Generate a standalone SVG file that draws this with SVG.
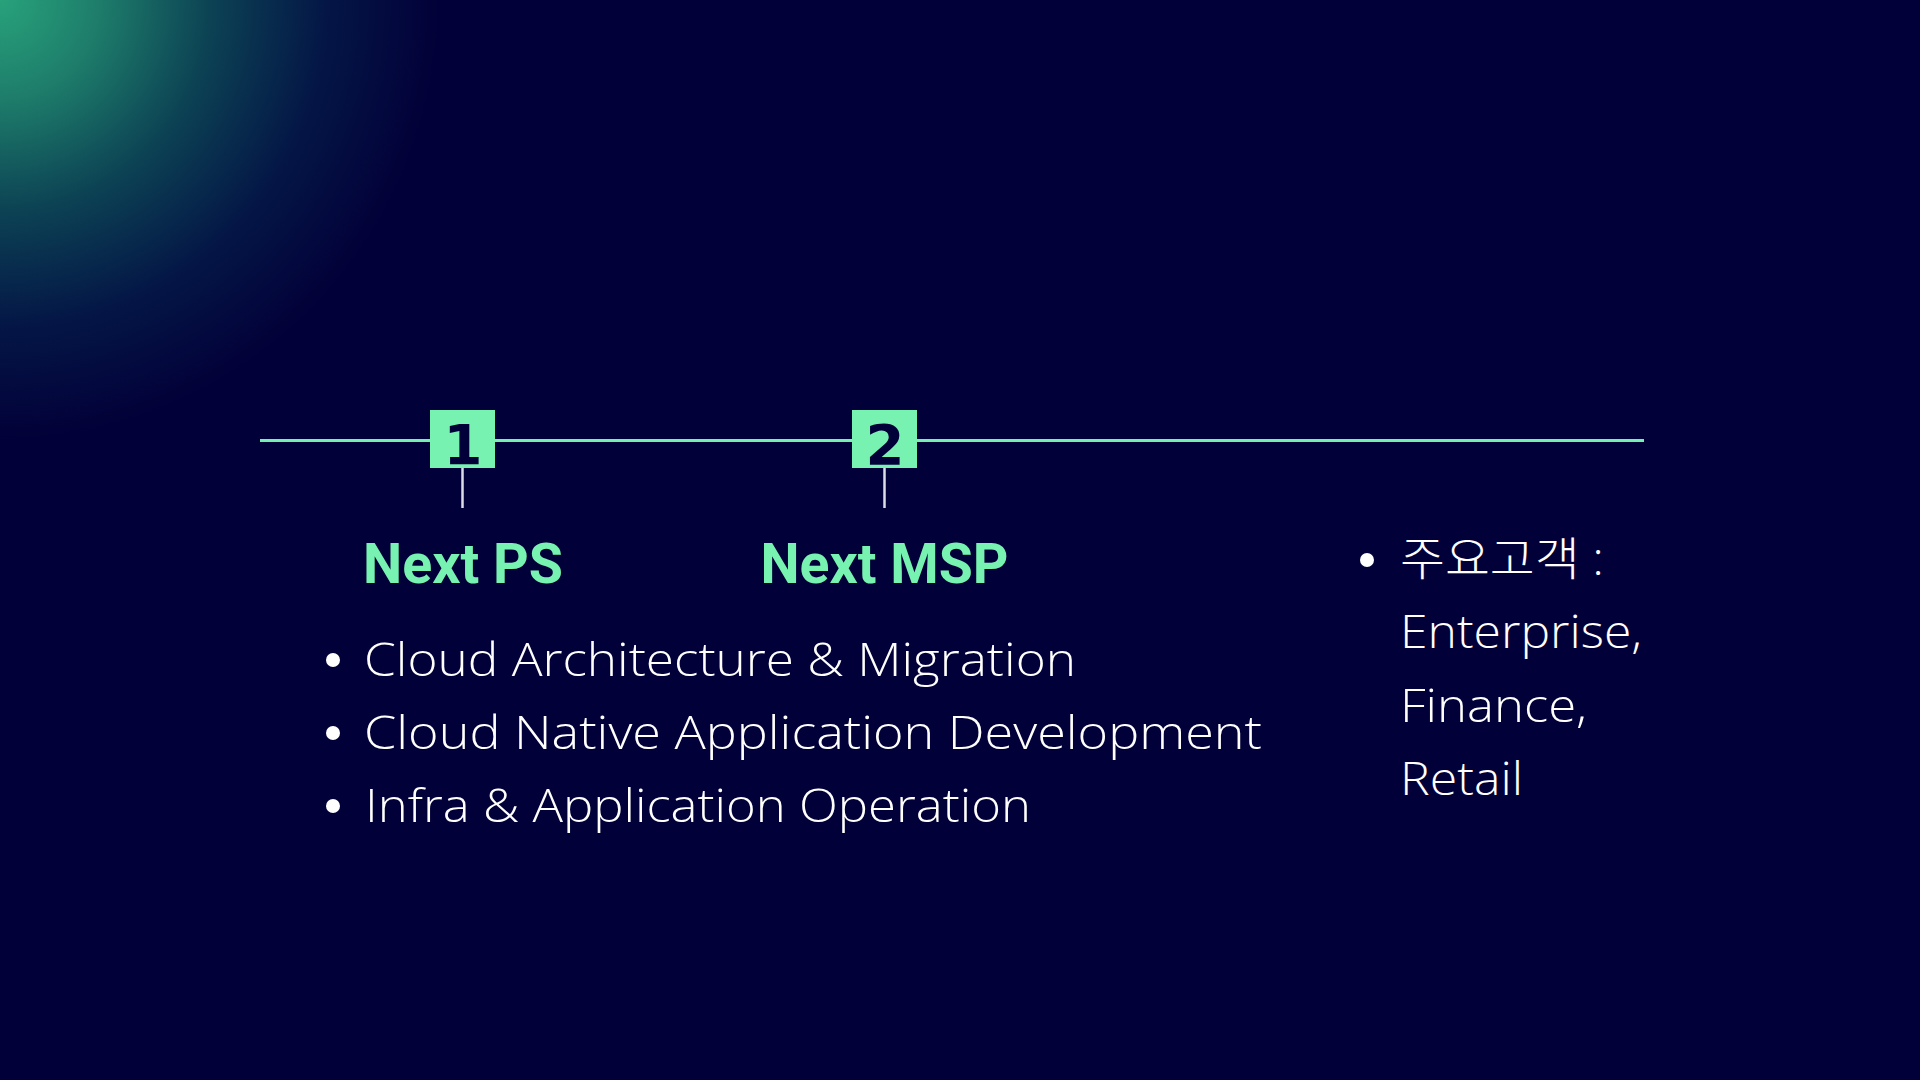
<svg xmlns="http://www.w3.org/2000/svg" width="1920" height="1080" viewBox="0 0 1920 1080">
  <defs>
    <radialGradient id="glow" cx="0" cy="0" r="440" gradientUnits="userSpaceOnUse">
      <stop offset="0" stop-color="#28a27b"/>
      <stop offset="0.22" stop-color="#1e7e6b"/>
      <stop offset="0.48" stop-color="#0c4254"/>
      <stop offset="0.74" stop-color="#041646"/>
      <stop offset="1" stop-color="#020038"/>
    </radialGradient>
    <style>
      .bg { fill: #020038; }
      .step { fill: #77f2b0; }
      .num { font-family: "DejaVu Sans", sans-serif; font-weight: bold; font-size: 56px; fill: #020038; text-anchor: middle; }
      .title { font-family: Roboto, "Liberation Sans", sans-serif; font-weight: bold; font-size: 55px; fill: #77f2b0; text-anchor: middle; }
      .body { font-family: "Open Sans", "Noto Sans CJK KR", sans-serif; font-weight: 300; font-size: 46px; fill: #ffffff; }
      .kr { font-family: "Open Sans", "Noto Sans CJK KR", sans-serif; font-weight: 300; font-size: 46px; fill: #ffffff; }
      .dot { fill: #ffffff; }
      .timeline { stroke: #76f0ae; stroke-width: 3; fill: none; }
      .tick { stroke: #dcdce6; stroke-width: 2.5; fill: none; }
    </style>
  </defs>
  <rect class="bg" x="0" y="0" width="1920" height="1080"/>
  <rect x="0" y="0" width="1920" height="1080" fill="url(#glow)"/>

  <g id="connectors">
    <line class="timeline" x1="260" y1="440.5" x2="1644" y2="440.5"/>
    <line class="tick" x1="462.5" y1="468" x2="462.5" y2="508"/>
    <line class="tick" x1="884.5" y1="468" x2="884.5" y2="508"/>
  </g>

  <g id="step1">
    <rect class="step" x="430" y="410" width="65" height="58"/>
    <text class="num" x="463" y="464">1</text>
  </g>
  <g id="step2">
    <rect class="step" x="852" y="410" width="65" height="58"/>
    <text class="num" x="885" y="464">2</text>
  </g>

  <g id="next-ps">
    <text class="title" x="463" y="583" textLength="200" lengthAdjust="spacingAndGlyphs">Next PS</text>
  </g>
  <g id="next-msp">
    <text class="title" x="884.5" y="583" textLength="248" lengthAdjust="spacingAndGlyphs">Next MSP</text>
  </g>

  <g id="services">
    <circle class="dot" cx="333" cy="660" r="7"/>
    <text class="body" x="364" y="676" textLength="712" lengthAdjust="spacingAndGlyphs">Cloud Architecture &amp; Migration</text>
    <circle class="dot" cx="333" cy="733" r="7"/>
    <text class="body" x="364" y="749" textLength="898" lengthAdjust="spacingAndGlyphs">Cloud Native Application Development</text>
    <circle class="dot" cx="333" cy="806" r="7"/>
    <text class="body" x="365" y="822" textLength="666" lengthAdjust="spacingAndGlyphs">Infra &amp; Application Operation</text>
  </g>

  <g id="customers">
    <circle class="dot" cx="1367" cy="560" r="7"/>
    <text class="kr" x="1400" y="575" textLength="204" lengthAdjust="spacingAndGlyphs">주요고객 :</text>
    <text class="body" x="1400" y="648" textLength="242" lengthAdjust="spacingAndGlyphs">Enterprise,</text>
    <text class="body" x="1400" y="722" textLength="187" lengthAdjust="spacingAndGlyphs">Finance,</text>
    <text class="body" x="1400" y="795" textLength="123" lengthAdjust="spacingAndGlyphs">Retail</text>
  </g>
</svg>
